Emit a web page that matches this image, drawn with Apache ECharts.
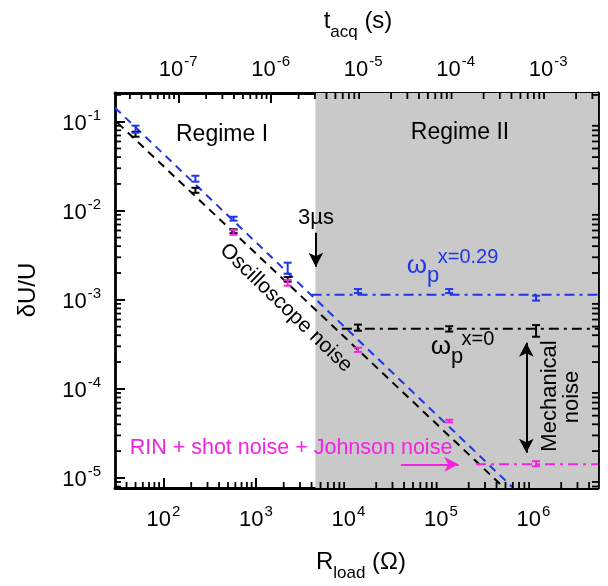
<!DOCTYPE html>
<html><head><meta charset="utf-8">
<script src="https://cdn.jsdelivr.net/npm/echarts@6/dist/echarts.min.js"></script>
<style>html,body{margin:0;padding:0;background:#fff}#c{width:608px;height:586px}</style>
</head><body><div id="c"></div>
<script>
// ---------------- data ----------------
const rBlue  = [50, 222, 574, 2207, 12700, 123000, 1070000];
const vBlue  = [0.0813, 0.0229, 0.0081, 0.0023, 0.00125, 0.00125, 0.00104];
const loBlue = [0.0752, 0.0212, 0.00774, 0.00196, 0.00119, 0.00119, 0.00098];
const hiBlue = [0.0902, 0.0247, 0.00856, 0.00261, 0.00132, 0.00132, 0.00111];

const rBlack  = [50, 222, 574, 2207, 12700, 123000, 1070000];
const vBlack  = [0.0714, 0.0168, 0.0059, 0.0017, 0.00048, 0.00047, 0.00046];
const loBlack = [0.0678, 0.0159, 0.0056, 0.0016, 0.00045, 0.00044, 0.000385];
const hiBlack = [0.0772, 0.0181, 0.0062, 0.0018, 0.000527, 0.000505, 0.00052];

const rMag  = [574, 2207, 12700, 123000, 1070000];
const vMag  = [0.0058, 0.00155, 0.000277, 0.0000435, 0.0000146];
const loMag = [0.00537, 0.00144, 0.00026, 0.000042, 0.0000135];
const hiMag = [0.0061, 0.00167, 0.00029, 0.000045, 0.0000154];

const fitBlue    = [[30, 0.1436], [607000, 7.7e-6]];
const fitBlack   = [[32, 0.097], [450000, 8.3e-6]];
const levelBlue  = [[4000, 1.14e-3], [5e6, 1.14e-3]];
const levelBlack = [[8500, 4.72e-4], [5e6, 4.72e-4]];
const levelMag   = [[240000, 1.42e-5], [5e6, 1.42e-5]];

const arrow3us   = [[4450, 5.66e-3], [4450, 2.35e-3]];
const arrowMech  = [[840000, 3.29e-4], [840000, 1.91e-5]];
const arrowMag   = [[37000, 1.42e-5], [155000, 1.42e-5]];

const regimeBoundary = 4400;
const xRange = [30, 5e6];
const tRange = [2.07e-8, 3.45e-3];
const yRange = [7.7e-6, 0.21];
const xTickExps = [2, 3, 4, 5, 6];
const tTickExps = [-7, -6, -5, -4, -3];
const yTickExps = [-5, -4, -3, -2, -1];

// ---------------- styles ----------------
const FONT = '"Liberation Sans", Arial, sans-serif';
const BLUE = '#1f36e6';
const MAG = '#f224e0';

function fmt(exps) {
  return function (v) {
    const l = Math.log10(v);
    const e = Math.round(l);
    if (Math.abs(l - e) > 1e-6 || exps.indexOf(e) < 0) return '';
    return '{b|10}{s|' + e + '}';
  };
}
const rich = {
  b: { fontSize: 22, fontFamily: FONT, color: '#000', verticalAlign: 'bottom' },
  s: { fontSize: 15, fontFamily: FONT, color: '#000', verticalAlign: 'bottom', padding: [0, 0, 12, 1] }
};
const axLine = { show: true, onZero: false, lineStyle: { color: '#000', width: 2.8 } };
const axTick = { show: true, inside: true, length: 10, lineStyle: { color: '#000', width: 2 } };

function minorVals(lo, hi) {
  const out = [];
  for (let k = Math.floor(Math.log10(lo)); k <= Math.ceil(Math.log10(hi)); k++)
    for (let m = 2; m <= 9; m++) {
      const v = m * Math.pow(10, k);
      if (v > lo * 1.001 && v < hi / 1.001) out.push(v);
    }
  return out;
}

function errSeries(r, v, lo, hi, color) {
  return {
    type: 'custom', xAxisIndex: 0, yAxisIndex: 0, z: 6, silent: true,
    data: r.map((x, i) => [x, v[i], lo[i], hi[i]]),
    encode: { x: 0, y: 1 },
    renderItem: function (params, api) {
      const x = api.value(0);
      const p1 = api.coord([x, api.value(2)]);
      const p2 = api.coord([x, api.value(3)]);
      const hw = 4;
      const st = { stroke: color, lineWidth: 2 };
      return { type: 'group', children: [
        { type: 'line', shape: { x1: p1[0], y1: p1[1], x2: p2[0], y2: p2[1] }, style: st },
        { type: 'line', shape: { x1: p1[0] - hw, y1: p1[1], x2: p1[0] + hw, y2: p1[1] }, style: st },
        { type: 'line', shape: { x1: p2[0] - hw, y1: p2[1], x2: p2[0] + hw, y2: p2[1] }, style: st }
      ]};
    }
  };
}

function lineSeries(data, color, type) {
  return {
    type: 'line', data: data, symbol: 'none', silent: true, z: 4,
    lineStyle: { color: color, width: 2, type: type }, clip: true
  };
}

function arrowSeries(pts, color, symbols) {
  return {
    type: 'line', data: [], silent: true, z: 7,
    markLine: {
      silent: true, symbol: symbols, symbolSize: [11, 14], animation: false,
      label: { show: false },
      lineStyle: { color: color, width: 2, type: 'solid' },
      data: [[{ coord: pts[0] }, { coord: pts[1] }]]
    }
  };
}

const minorX = minorVals(xRange[0], xRange[1]).map(v => [v, 1e-3]);
const minorT = minorVals(tRange[0], tRange[1]).map(v => [v, 1e-3]);
const minorY = minorVals(yRange[0], yRange[1]).map(v => [1000, v]);

const series = [
  {
    type: 'line', data: [], silent: true, z: 1,
    markArea: {
      silent: true, animation: false,
      itemStyle: { color: '#c9c9c9', opacity: 1 },
      data: [[{ coord: [regimeBoundary, yRange[0]] }, { coord: [xRange[1], yRange[1]] }]]
    }
  },
  lineSeries(fitBlack, '#000', [8, 6]),
  lineSeries(fitBlue, BLUE, [8, 6]),
  lineSeries(levelBlue, BLUE, [10, 5, 3, 5]),
  lineSeries(levelBlack, '#000', [10, 5, 3, 5]),
  lineSeries(levelMag, MAG, [10, 5, 3, 5]),
  errSeries(rBlack, vBlack, loBlack, hiBlack, '#000'),
  errSeries(rBlue, vBlue, loBlue, hiBlue, BLUE),
  errSeries(rMag, vMag, loMag, hiMag, MAG),
  arrowSeries(arrow3us, '#000', ['none', 'arrow']),
  arrowSeries(arrowMech, '#000', ['arrow', 'arrow']),
  arrowSeries(arrowMag, MAG, ['none', 'arrow']),
  {
    type: 'custom', xAxisIndex: 0, yAxisIndex: 0, z: 9, silent: true, data: minorX, encode: { x: 0, y: 1 },
    renderItem: function (params, api) {
      const x = api.coord([api.value(0), 1e-3])[0];
      const r = params.coordSys;
      return { type: 'line', shape: { x1: x, y1: r.y + r.height, x2: x, y2: r.y + r.height - 6 }, style: { stroke: '#000', lineWidth: 1.8 } };
    }
  },
  {
    type: 'custom', xAxisIndex: 1, yAxisIndex: 0, z: 9, silent: true, data: minorT, encode: { x: 0, y: 1 },
    renderItem: function (params, api) {
      const x = api.coord([api.value(0), 1e-3])[0];
      const r = params.coordSys;
      return { type: 'line', shape: { x1: x, y1: r.y, x2: x, y2: r.y + 6 }, style: { stroke: '#000', lineWidth: 1.8 } };
    }
  },
  {
    type: 'custom', xAxisIndex: 0, yAxisIndex: 0, z: 9, silent: true, data: minorY, encode: { x: 0, y: 1 },
    renderItem: function (params, api) {
      const y = api.coord([1000, api.value(1)])[1];
      const r = params.coordSys;
      return { type: 'group', children: [
        { type: 'line', shape: { x1: r.x, y1: y, x2: r.x + 6, y2: y }, style: { stroke: '#000', lineWidth: 1.8 } },
        { type: 'line', shape: { x1: r.x + r.width, y1: y, x2: r.x + r.width - 6, y2: y }, style: { stroke: '#000', lineWidth: 1.8 } }
      ]};
    }
  }
];

function txt(text, x, y, size, color, extra) {
  return Object.assign({
    type: 'text', x: x, y: y, z: 20, silent: true,
    style: { text: text, font: size + 'px ' + FONT, fill: color,
      textAlign: 'center', textVerticalAlign: 'middle', align: 'center', verticalAlign: 'middle' }
  }, extra || {});
}

const graphic = [
  txt('Regime I', 222, 135, 23, '#000'),
  txt('Regime II', 460, 133, 23, '#000'),
  txt('3\u00b5s', 316, 218, 22, '#000'),
  txt('Oscilloscope noise', 286, 308, 21, '#000', { rotation: -44 * Math.PI / 180 }),
  txt('\u03c9', 417, 266, 26, BLUE),
  txt('p', 433, 276, 22, BLUE),
  txt('x=0.29', 468, 257, 20, BLUE),
  txt('\u03c9', 441, 347, 26, '#000'),
  txt('p', 457, 357, 22, '#000'),
  txt('x=0', 478, 339, 20, '#000'),
  txt('RIN + shot noise + Johnson noise', 291, 448, 21.5, MAG),
  txt('Mechanical', 550, 396, 22, '#000', { rotation: Math.PI / 2 }),
  txt('noise', 572, 397, 22, '#000', { rotation: Math.PI / 2 }),
  txt('\u03b4U/U', 28, 290, 24, '#000', { rotation: Math.PI / 2 }),
  {
    type: 'text', x: 361, y: 566, z: 20, silent: true,
    style: { text: '{m|R}{s|load}{m| (\u03a9)}', align: 'center', verticalAlign: 'middle',
      textAlign: 'center', textVerticalAlign: 'middle',
      rich: { m: { fontSize: 24, fontFamily: FONT, fill: '#000', color: '#000', verticalAlign: 'top' },
              s: { fontSize: 17, fontFamily: FONT, fill: '#000', color: '#000', verticalAlign: 'top', padding: [14, 0, 0, 0] } } }
  },
  {
    type: 'text', x: 358, y: 25, z: 20, silent: true,
    style: { text: '{m|t}{s|acq}{m| (s)}', align: 'center', verticalAlign: 'middle',
      textAlign: 'center', textVerticalAlign: 'middle',
      rich: { m: { fontSize: 24, fontFamily: FONT, fill: '#000', color: '#000', verticalAlign: 'top' },
              s: { fontSize: 17, fontFamily: FONT, fill: '#000', color: '#000', verticalAlign: 'top', padding: [14, 0, 0, 0] } } }
  }
];

const chart = echarts.init(document.getElementById('c'), null, { renderer: 'canvas' });
chart.setOption({
  animation: false,
  backgroundColor: '#fff',
  grid: { left: 115, right: 10, top: 93, bottom: 98, containLabel: false },
  xAxis: [
    { type: 'log', logBase: 10, min: xRange[0], max: xRange[1], position: 'bottom',
      axisLine: axLine, axisTick: axTick, splitLine: { show: false }, minorTick: { show: false },
      axisLabel: { margin: 16, formatter: fmt(xTickExps), rich: rich, showMinLabel: false, showMaxLabel: false } },
    { type: 'log', logBase: 10, min: tRange[0], max: tRange[1], position: 'top',
      axisLine: axLine, axisTick: axTick, splitLine: { show: false }, minorTick: { show: false },
      axisLabel: { margin: 12, formatter: fmt(tTickExps), rich: rich, showMinLabel: false, showMaxLabel: false } }
  ],
  yAxis: [
    { type: 'log', logBase: 10, min: yRange[0], max: yRange[1], position: 'left',
      axisLine: axLine, axisTick: axTick, splitLine: { show: false }, minorTick: { show: false },
      axisLabel: { margin: 14, formatter: fmt(yTickExps), rich: rich, showMinLabel: false, showMaxLabel: false } },
    { type: 'log', logBase: 10, min: yRange[0], max: yRange[1], position: 'right',
      axisLine: axLine, axisTick: axTick, splitLine: { show: false }, minorTick: { show: false },
      axisLabel: { show: false } }
  ],
  series: series,
  graphic: graphic
});
</script></body></html>
